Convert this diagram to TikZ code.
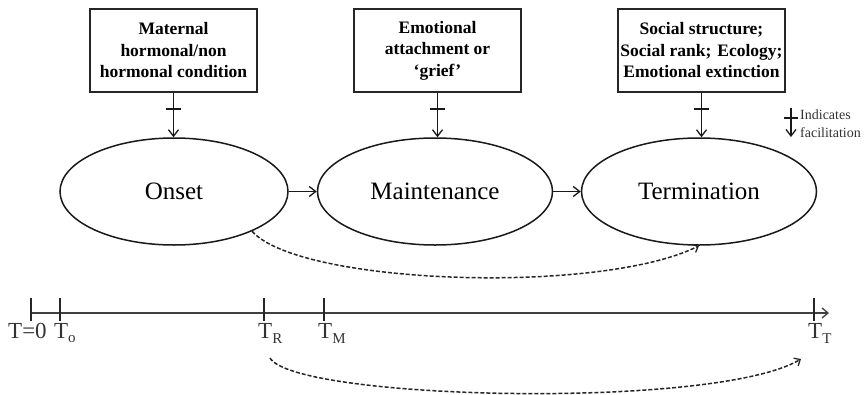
\documentclass[tikz,border=0pt]{standalone}
\usepackage{fontspec}
\setmainfont{Liberation Serif}
\usetikzlibrary{arrows.meta,calc,shapes.geometric}
\begin{document}
\begin{tikzpicture}[x=1pt,y=-1pt,
  factorbox/.style={draw=black!85,line width=2pt,minimum width=167pt,minimum height=83pt,
    align=center,inner sep=0pt,font=\fontsize{17.5}{21.5}\selectfont\bfseries},
  phase/.style={ellipse,draw=black!90,line width=1.5pt,minimum height=107pt,inner sep=0pt,
    font=\fontsize{25}{30}\selectfont},
  tip/.style={-{Straight Barb[length=6.5pt,width=10pt,line width=1.3pt]}},
  stem/.style={tip,line width=1.5pt,black!90},
  bar/.style={line width=2pt,black!90},
  dashconn/.style={dash pattern=on 4pt off 2pt,line width=1.5pt,black!85,-{Straight Barb[length=5pt,width=9pt,line width=1.3pt]}},
  tlabel/.style={anchor=north west,inner sep=0pt,font=\fontsize{23}{26}\selectfont,text=black!80},
  tick/.style={line width=1.6pt,black!85}]
\useasboundingbox (0,0) rectangle (868,394);

% factor boxes
\node[factorbox] (b1) at (173.5,50.5) {Maternal\\hormonal/non\\hormonal condition};
\node[factorbox] (b2) at (437.5,50.5) {Emotional\\attachment or\\`grief'};
\node[factorbox] (b3) at (701.5,50.5) {Social structure;\\Social rank;\hspace{6pt}Ecology;\\Emotional extinction};

% phases
\node[phase,minimum width=228pt] (onset) at (174,191.5) {Onset};
\node[phase,minimum width=235pt] (maint) at (435,191.5) {Maintenance};
\node[phase,minimum width=235pt] (term) at (699,191.5) {Termination};

% facilitation stems
\draw[stem] (b1.south) -- (b1.south |- onset.north);
\draw[stem] (b2.south) -- (b2.south |- maint.north);
\draw[stem] (b3.south) -- (b3.south |- term.north);
\draw[bar] ($(b1.south)+(-7.5,16)$) -- ++(15,0);
\draw[bar] ($(b2.south)+(-7.5,16)$) -- ++(15,0);
\draw[bar] ($(b3.south)+(-7.5,16)$) -- ++(15,0);

% phase arrows
\draw[stem] (onset.east) -- (maint.west);
\draw[stem] (maint.east) -- (term.west);

% legend
\coordinate (lgtop) at (791,108);
\coordinate (lgbot) at (791,137);
\draw[stem] (lgtop) -- (lgbot);
\draw[bar] (784,118) -- (798,118);
\node[anchor=west,align=left,inner sep=0pt,font=\fontsize{14}{18}\selectfont,text=black!80] (lgtext) at (800,124) {Indicates\\facilitation};

% upper dashed
\draw[dashconn] (onset.-27) .. controls (300,285) and (600,295) .. (term.south);

% timeline
\coordinate (tl0) at (31,313);
\coordinate (tlend) at (829,313);
\draw[line width=2.2pt,black!75,-{Straight Barb[length=6pt,width=10pt,line width=1.3pt]}] (tl0) -- (tlend);
\foreach \x in {31,60,264,324,814}{
  \draw[tick] (\x,298) -- (\x,321);
}
\node[tlabel] (l0) at (8,323) {T=0};
\node[tlabel] (lo) at (54,323) {T\raisebox{-4pt}{\fontsize{15}{15}\selectfont o}};
\node[tlabel] (lr) at (258,323) {T\raisebox{-5pt}{\fontsize{15}{15}\selectfont R}};
\node[tlabel] (lm) at (318,323) {T\raisebox{-5pt}{\fontsize{15}{15}\selectfont M}};
\node[tlabel] (lt) at (808,323) {T\raisebox{-5pt}{\fontsize{15}{15}\selectfont T}};

% lower dashed
\coordinate (ds) at (270,358);
\coordinate (de) at (801,359);
\draw[dashconn] (ds) .. controls (295,400) and (715,410) .. (de);
\end{tikzpicture}
\end{document}
